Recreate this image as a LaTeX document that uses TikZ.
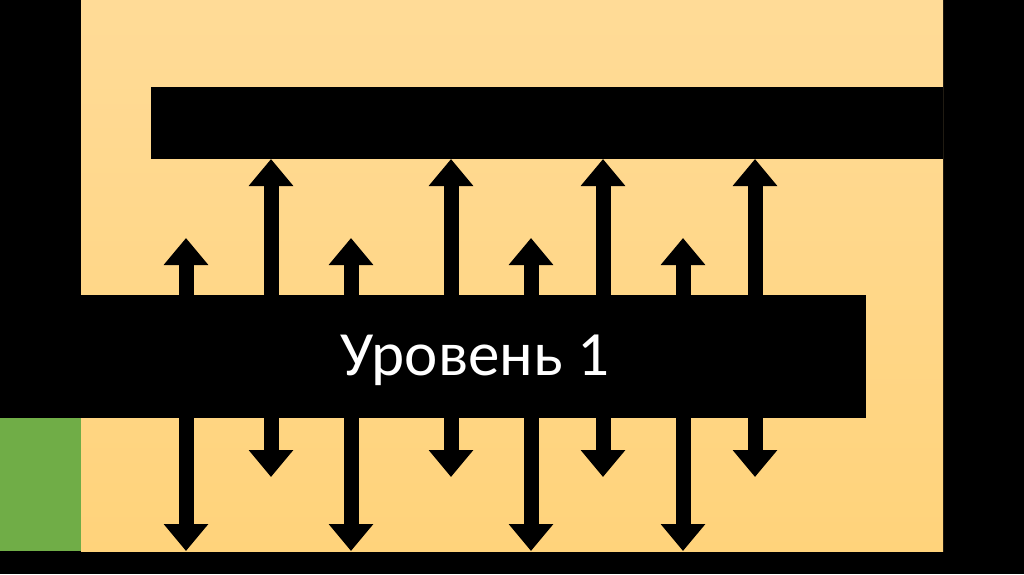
\documentclass[tikz,border=0pt]{standalone}
\usepackage{fontspec}
\setmainfont{Carlito}
\usetikzlibrary{arrows.meta}
\definecolor{levtan}{RGB}{255,219,151}
\definecolor{levtanlow}{RGB}{255,211,123}
\definecolor{levgreen}{RGB}{112,173,71}
\tikzset{
wall/.style={fill=black, draw=none, inner sep=0pt, outer sep=0pt, anchor=north west},
exitbox/.style={wall, fill=levgreen},
link/.style={{Triangle[length=27pt,width=43pt]}-{Triangle[length=27pt,width=43pt]}, line width=15pt, draw=black},
levellabel/.style={text=white, font=\fontsize{63}{75}\selectfont}
}
\begin{document}
\begin{tikzpicture}[x=1pt,y=-1pt]
\useasboundingbox (0,0) rectangle (1024,574);
% outer walls and floor
\fill[black] (0,0) rectangle (1024,574);
\shade[top color=levtan, bottom color=levtanlow] (81,0) rectangle (943,551);
\node[exitbox, minimum width=81pt, minimum height=133pt] (exit) at (0,418) {};
\node[wall, minimum width=792pt, minimum height=72pt] (topbar) at (151,87) {};
% long arrows
\foreach \n/\x in {1/271,2/451,3/603,4/755}{
  \coordinate (lu\n) at (\x,159);
  \coordinate (ld\n) at (\x,477);
  \draw[link] (lu\n) -- (ld\n);
}
% short arrows
\foreach \n/\x in {1/186,2/351,3/531,4/683}{
  \coordinate (su\n) at (\x,238);
  \coordinate (sd\n) at (\x,551);
  \draw[link] (su\n) -- (sd\n);
}
\node[wall, minimum width=866pt, minimum height=123pt] (midbar) at (0,295) {};
\node[levellabel] (level) at (475,360) {Уровень 1};
\end{tikzpicture}
\end{document}
